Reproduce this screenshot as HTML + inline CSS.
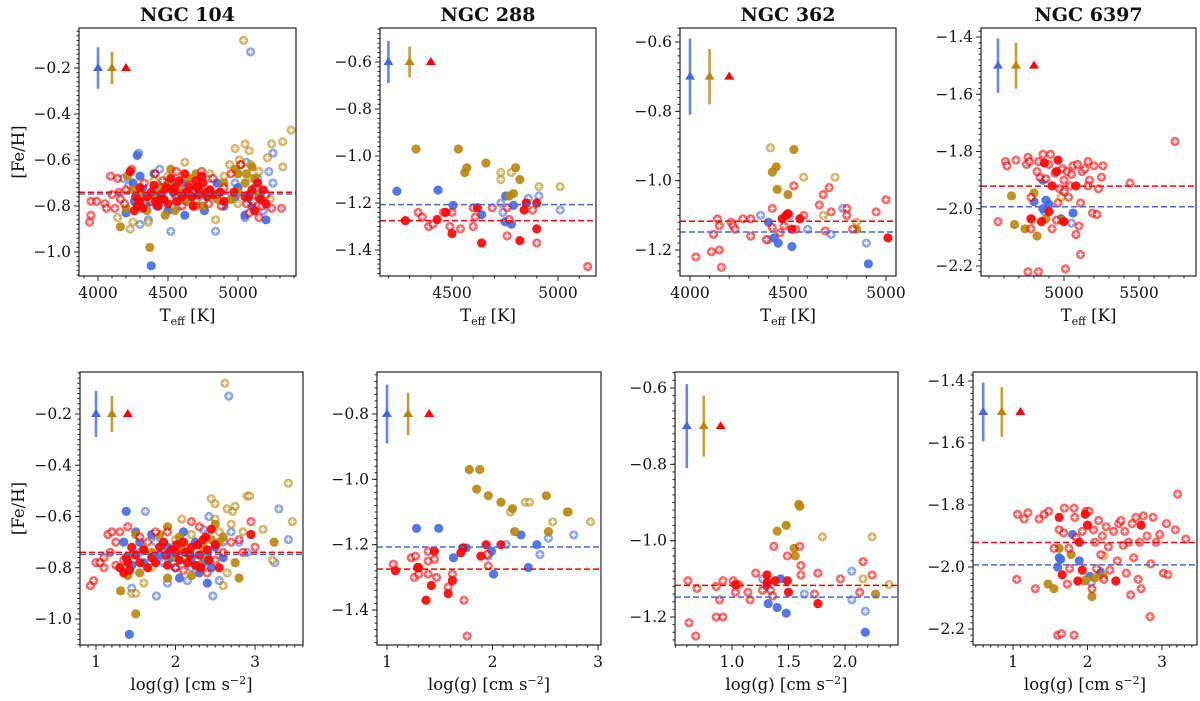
<!DOCTYPE html>
<html><head><meta charset="utf-8"><style>
html,body{margin:0;padding:0;background:#fff;}
svg{display:block;font-family:"DejaVu Serif","Liberation Serif",serif;}
</style></head><body>
<svg id="fig" width="1200" height="701" viewBox="0 0 1200 701" xmlns="http://www.w3.org/2000/svg"></svg>
<script>
// ---- data: each array is flat [x, y, x, y, ...] ----
const p1tBlueF=[4280,-0.58,4380,-1.06,4300,-0.67,4250,-0.70,4400,-0.66,4500,-0.82,4620,-0.84,4350,-0.79,5050,-0.84,5100,-0.80,5200,-0.86,4700,-0.72,4550,-0.75,4850,-0.70,5150,-0.76,4450,-0.77,4200,-0.83,4900,-0.80,4600,-0.70,5000,-0.72,4320,-0.72,4420,-0.80,4680,-0.76,4760,-0.82,4980,-0.76,5080,-0.78,4530,-0.70,4260,-0.78];
const p1tBlueO=[5090,-0.13,4290,-0.57,4440,-0.64,4520,-0.91,4840,-0.91,5060,-0.61,5220,-0.65,5250,-0.57,5250,-0.70,4180,-0.68,4300,-0.88,4750,-0.78,4950,-0.77,5180,-0.82,4650,-0.73,4400,-0.73,5050,-0.85,4800,-0.68,4580,-0.80,5120,-0.72,4360,-0.86,4980,-0.70,4220,-0.71,4470,-0.70,4700,-0.76,4880,-0.74,5140,-0.68,4620,-0.77];
const p1tGoldF=[4370,-0.98,4160,-0.89,4200,-0.81,4210,-0.67,4520,-0.64,4480,-0.84,4640,-0.78,4580,-0.70,4700,-0.66,4800,-0.73,4950,-0.77,5000,-0.66,5050,-0.70,5100,-0.63,4900,-0.70,4350,-0.82,4450,-0.72,4750,-0.80,5150,-0.75,4300,-0.75,4550,-0.82,4650,-0.68,5020,-0.62,4980,-0.64,5060,-0.66,5120,-0.68,4400,-0.76,4600,-0.74,4850,-0.77,4250,-0.73,4500,-0.70,4720,-0.72,5000,-0.74];
const p1tGoldO=[5040,-0.08,5380,-0.47,5320,-0.52,5050,-0.53,4980,-0.55,5240,-0.53,5210,-0.59,5320,-0.63,4620,-0.61,4840,-0.86,4140,-0.85,4230,-0.90,4360,-0.87,4900,-0.67,5080,-0.56,5150,-0.65,4700,-0.78,4500,-0.67,4250,-0.87,4800,-0.66,5000,-0.79,4400,-0.69,5100,-0.68,5230,-0.77,4940,-0.62,5010,-0.60,5090,-0.62,4560,-0.76,4330,-0.78];
const p1tRedF=[4280,-0.80,4260,-0.82,4300,-0.78,4230,-0.65,4500,-0.79,4550,-0.72,4600,-0.76,4650,-0.72,4700,-0.69,4720,-0.75,4750,-0.70,4800,-0.73,4450,-0.75,4400,-0.71,4350,-0.76,4520,-0.68,5100,-0.73,5140,-0.70,5120,-0.82,5050,-0.76,4970,-0.74,4900,-0.78,5200,-0.79,4620,-0.66,4680,-0.80,4560,-0.78,4780,-0.76,4430,-0.80,4300,-0.72,5160,-0.77,4270,-0.76,4320,-0.81,4380,-0.74,4470,-0.77,4540,-0.74,4580,-0.69,4630,-0.74,4670,-0.76,4710,-0.72,4740,-0.67,4770,-0.74,4820,-0.75,4870,-0.74,5080,-0.75,5180,-0.73,4490,-0.72,4410,-0.78];
const p1tRedO=[3940,-0.87,3950,-0.84,3950,-0.78,3990,-0.78,4050,-0.79,4060,-0.81,4090,-0.67,4140,-0.68,4150,-0.74,4120,-0.81,4200,-0.73,4240,-0.64,4330,-0.70,4410,-0.66,4460,-0.69,4560,-0.65,4650,-0.71,4740,-0.65,4820,-0.68,4850,-0.75,4900,-0.72,4950,-0.66,5020,-0.62,5060,-0.79,5150,-0.85,5200,-0.75,5240,-0.81,5310,-0.81,4700,-0.80,4600,-0.80,4790,-0.79,4380,-0.78,4480,-0.73,5080,-0.83,4880,-0.80,4160,-0.77,4100,-0.75,4190,-0.79,5110,-0.78,5170,-0.80];

const p1bBlueF=[1.42,-1.06,1.38,-0.58,1.35,-0.70,1.5,-0.66,1.7,-0.67,2.0,-0.80,2.05,-0.84,2.3,-0.82,2.4,-0.86,2.2,-0.76,1.9,-0.72,1.6,-0.78,2.5,-0.72,1.45,-0.79,2.1,-0.66,2.6,-0.76,1.8,-0.75,1.55,-0.70,2.25,-0.70,2.35,-0.78,1.95,-0.76,2.45,-0.80];
const p1bBlueO=[2.67,-0.13,1.62,-0.58,1.76,-0.91,2.47,-0.91,3.3,-0.57,3.42,-0.69,3.25,-0.78,1.45,-0.88,2.42,-0.60,2.8,-0.70,1.9,-0.86,2.15,-0.85,2.55,-0.85,2.9,-0.74,2.35,-0.65,1.55,-0.74,2.7,-0.66,2.0,-0.71,1.75,-0.70,2.2,-0.80,2.6,-0.70,1.85,-0.78];
const p1bGoldF=[1.50,-0.98,1.31,-0.89,1.4,-0.83,1.5,-0.67,1.8,-0.67,1.9,-0.64,2.0,-0.76,2.2,-0.83,2.35,-0.72,2.45,-0.69,2.6,-0.68,2.75,-0.78,2.8,-0.84,3.24,-0.70,1.9,-0.84,2.1,-0.73,2.3,-0.79,1.6,-0.73,1.55,-0.82,2.5,-0.63,1.7,-0.74,2.05,-0.68,2.4,-0.75,2.55,-0.70,1.45,-0.75];
const p1bGoldO=[2.62,-0.08,3.42,-0.47,3.47,-0.62,2.9,-0.52,2.93,-0.52,2.45,-0.53,2.5,-0.55,2.65,-0.57,2.72,-0.58,2.75,-0.56,2.6,-0.87,1.45,-0.90,1.5,-0.90,1.6,-0.86,2.08,-0.61,2.5,-0.61,3.1,-0.65,2.85,-0.66,3.22,-0.77,2.65,-0.82,2.2,-0.67,1.7,-0.80,2.0,-0.69,2.4,-0.76,2.55,-0.66,2.7,-0.63];
const p1bRedF=[1.3,-0.80,1.35,-0.82,1.4,-0.78,1.6,-0.73,1.7,-0.76,1.8,-0.72,1.9,-0.79,2.0,-0.74,2.1,-0.70,2.15,-0.78,2.2,-0.72,2.3,-0.75,2.35,-0.69,2.4,-0.73,2.45,-0.65,2.5,-0.71,2.55,-0.80,2.95,-0.67,1.5,-0.75,1.65,-0.80,2.05,-0.77,2.25,-0.79,1.85,-0.70,2.38,-0.68,1.45,-0.72,2.12,-0.74,1.95,-0.73,1.38,-0.76,1.55,-0.78,1.75,-0.78,1.88,-0.75,2.02,-0.71,2.18,-0.75,2.28,-0.71,2.42,-0.77,2.32,-0.80,1.42,-0.81];
const p1bRedO=[0.93,-0.87,0.97,-0.85,1.0,-0.78,1.05,-0.78,1.1,-0.80,1.15,-0.67,1.2,-0.66,1.18,-0.74,1.25,-0.79,1.3,-0.66,1.4,-0.64,1.55,-0.68,1.75,-0.66,2.2,-0.62,2.3,-0.64,2.4,-0.82,2.8,-0.69,2.95,-0.62,3.0,-0.72,2.85,-0.74,2.6,-0.74,1.1,-0.76,1.9,-0.66,2.7,-0.70,1.35,-0.77,2.0,-0.80,1.25,-0.70,1.65,-0.70,2.1,-0.81,2.5,-0.77];

const p2tBlueF=[4240,-1.15,4434,-1.145,4505,-1.21,4640,-1.25,4750,-1.28,4790,-1.21,4780,-1.29,4753,-1.17];
const p2tBlueO=[4860,-1.18,4910,-1.17,5010,-1.23,4740,-1.24,4730,-1.20,4850,-1.20];
const p2tGoldF=[4330,-0.97,4530,-0.97,4560,-1.07,4570,-1.05,4660,-1.03,4800,-1.05,4820,-1.10,4790,-1.16,4770,-1.17];
const p2tGoldO=[4730,-1.07,4730,-1.10,4780,-1.07,4910,-1.13,5010,-1.13];
const p2tRedF=[4280,-1.275,4430,-1.27,4500,-1.33,4620,-1.22,4640,-1.37,4840,-1.23,4900,-1.31,4820,-1.36,4850,-1.20,4900,-1.20,4470,-1.24];
const p2tRedO=[4340,-1.24,4360,-1.26,4390,-1.30,4410,-1.29,4460,-1.24,4490,-1.30,4500,-1.24,4540,-1.31,4600,-1.22,4610,-1.26,4600,-1.30,4690,-1.22,4760,-1.22,4760,-1.34,4770,-1.27,4880,-1.23,4900,-1.37,5140,-1.47];

const p2bBlueF=[1.28,-1.15,1.49,-1.15,1.63,-1.24,1.72,-1.21,1.75,-1.21,2.01,-1.29,2.27,-1.17,2.34,-1.27,2.42,-1.20,1.99,-1.22];
const p2bBlueO=[2.13,-1.20,1.96,-1.235,2.45,-1.23,2.53,-1.18,2.77,-1.17];
const p2bGoldF=[1.78,-0.97,1.88,-0.97,1.85,-1.03,1.96,-1.05,2.08,-1.07,2.19,-1.09,2.21,-1.16,2.51,-1.05,2.53,-1.16,2.71,-1.10];
const p2bGoldO=[2.17,-1.10,2.31,-1.07,2.35,-1.07,2.57,-1.13,2.72,-1.10,2.93,-1.13];
const p2bRedF=[1.08,-1.28,1.29,-1.27,1.30,-1.27,1.37,-1.37,1.42,-1.325,1.45,-1.22,1.58,-1.35,1.62,-1.31,1.70,-1.225,1.72,-1.21,1.89,-1.235,1.94,-1.20,2.08,-1.20];
const p2bRedO=[1.06,-1.26,1.23,-1.24,1.27,-1.235,1.26,-1.30,1.30,-1.29,1.39,-1.22,1.39,-1.25,1.39,-1.29,1.45,-1.245,1.47,-1.30,1.58,-1.33,1.62,-1.29,1.73,-1.37,1.76,-1.48,1.96,-1.265,1.95,-1.23];

const p3tBlueF=[4400,-1.12,4430,-1.165,4450,-1.18,4520,-1.19,4910,-1.24];
const p3tBlueO=[4360,-1.10,4400,-1.17,4600,-1.14,4720,-1.155,4780,-1.08,4900,-1.18,4510,-1.10];
const p3tGoldF=[4530,-0.91,4420,-0.975,4440,-0.96,4445,-1.025,4500,-1.04,4850,-1.14];
const p3tGoldO=[4410,-0.905,4580,-0.99,4740,-0.99,4680,-1.10,4850,-1.12];
const p3tRedF=[4470,-1.11,4490,-1.10,4500,-1.095,4520,-1.14,4560,-1.11,5010,-1.165];
const p3tRedO=[4030,-1.22,4110,-1.205,4120,-1.155,4140,-1.11,4150,-1.13,4150,-1.20,4160,-1.25,4210,-1.12,4220,-1.13,4230,-1.14,4270,-1.11,4310,-1.11,4310,-1.16,4390,-1.17,4420,-1.08,4420,-1.135,4460,-1.15,4480,-1.13,4530,-1.015,4580,-1.10,4660,-1.07,4680,-1.04,4690,-1.145,4710,-1.02,4720,-1.09,4800,-1.08,4800,-1.10,4830,-1.14,4950,-1.09,5000,-1.055,4540,-1.14];

const p3bBlueF=[1.31,-1.12,1.32,-1.165,1.40,-1.175,1.43,-1.10,1.48,-1.19,2.18,-1.24];
const p3bBlueO=[1.27,-1.10,1.64,-1.14,2.06,-1.155,2.06,-1.08,2.18,-1.185];
const p3bGoldF=[1.40,-0.975,1.48,-0.96,1.55,-1.02,1.56,-1.04,1.59,-0.905,1.60,-0.91,2.27,-1.14];
const p3bGoldO=[1.80,-0.99,2.24,-0.99,2.16,-1.10,2.39,-1.115];
const p3bRedF=[1.31,-1.09,1.31,-1.11,1.38,-1.105,1.49,-1.105,1.50,-1.135,1.76,-1.165,1.03,-1.115];
const p3bRedO=[0.61,-1.105,0.62,-1.215,0.68,-1.25,0.69,-1.125,0.86,-1.12,0.86,-1.20,0.89,-1.155,0.92,-1.105,0.92,-1.20,1.01,-1.105,1.03,-1.135,1.06,-1.115,1.14,-1.135,1.16,-1.155,1.21,-1.085,1.27,-1.13,1.34,-1.13,1.36,-1.145,1.37,-1.015,1.49,-1.04,1.60,-1.015,1.61,-1.065,1.61,-1.09,1.73,-1.14,1.76,-1.085,1.96,-1.10,2.13,-1.135,2.16,-1.055,2.24,-1.09];

const p4tBlueF=[4860,-1.90,4800,-1.975,4860,-2.00,4880,-1.97,4900,-1.985,4980,-2.035,5060,-2.015];
const p4tBlueO=[5050,-2.05,4870,-2.01];
const p4tGoldF=[4650,-1.955,4670,-2.055,4740,-2.07,4800,-1.945,4820,-2.095,4880,-2.035,4980,-2.04];
const p4tGoldO=[4980,-1.96,4790,-2.04];
const p4tRedF=[4780,-2.035,4850,-2.045,4900,-2.01,4920,-1.92,4950,-1.87,4960,-1.83,5000,-2.045,5080,-1.92,4870,-1.84];
const p4tRedO=[4560,-2.045,4610,-1.835,4620,-1.85,4680,-1.83,4750,-1.845,4760,-1.82,4770,-1.835,4780,-1.96,4780,-2.07,4820,-1.87,4830,-1.835,4840,-1.89,4860,-1.81,4880,-1.895,4900,-1.845,4910,-1.81,4920,-2.07,4940,-1.875,4950,-2.04,4960,-1.98,4970,-1.93,4990,-1.86,5000,-1.90,5010,-2.21,5020,-1.87,5030,-1.96,5040,-1.92,5050,-1.88,5060,-1.85,5080,-2.09,5090,-1.845,5100,-2.06,5110,-2.16,5120,-1.87,5140,-1.86,5160,-1.835,5170,-1.90,5190,-2.015,5200,-1.85,5220,-2.02,5230,-1.93,5250,-1.89,5260,-1.85,5440,-1.91,5740,-1.765,4760,-2.22,4830,-2.22,5110,-1.98,5160,-1.92,5000,-1.94];

const p4bBlueF=[1.60,-2.00,1.62,-1.97,1.64,-1.975,1.80,-1.895,1.89,-1.98,2.03,-2.03,2.17,-2.015];
const p4bBlueO=[2.05,-2.05];
const p4bGoldF=[1.47,-2.055,1.55,-2.07,1.62,-1.94,1.78,-1.96,1.96,-2.045,2.06,-2.095,2.10,-2.035,2.21,-2.03];
const p4bGoldO=[2.22,-1.965,1.99,-2.04];
const p4bRedF=[1.62,-1.84,1.66,-2.025,1.89,-1.92,1.93,-2.01,1.97,-1.83,2.00,-1.865,1.87,-2.045,2.38,-2.045,2.72,-1.865];
const p4bRedO=[1.05,-2.04,1.06,-1.83,1.15,-1.845,1.20,-1.825,1.30,-2.07,1.35,-1.845,1.42,-1.83,1.48,-1.82,1.55,-1.94,1.62,-1.88,1.68,-1.89,1.69,-1.81,1.73,-2.055,1.75,-1.94,1.76,-2.005,1.82,-1.81,1.83,-1.84,1.85,-1.905,1.93,-1.885,1.98,-1.82,2.02,-1.82,2.06,-2.07,2.08,-1.88,2.10,-1.92,2.12,-2.005,2.15,-1.85,2.18,-1.96,2.20,-1.90,2.22,-2.04,2.25,-1.87,2.28,-1.935,2.30,-2.01,2.35,-1.885,2.40,-1.98,2.42,-1.86,2.45,-1.85,2.50,-1.885,2.52,-2.02,2.55,-1.92,2.58,-2.09,2.60,-1.86,2.65,-1.84,2.68,-2.04,2.70,-1.92,2.75,-1.835,2.80,-1.90,2.84,-2.16,2.85,-1.99,2.88,-1.84,2.92,-1.92,2.97,-1.895,3.02,-2.02,3.06,-1.86,3.08,-2.025,3.18,-1.88,3.21,-1.765,3.32,-1.91,1.60,-2.22,1.65,-2.215,1.82,-2.22,2.72,-2.07,2.62,-1.97,2.48,-1.93];

// mean lines [red, blue]
const meanP1=[-0.740,-0.748];
const meanP2=[-1.275,-1.207];
const meanP3=[-1.117,-1.148];
const meanP4=[-1.921,-1.993];
const errXT1=[4000,4100,4200], errXB1=[1.0,1.2,1.4];
const errXT2=[4200,4300,4400], errXB2=[1.0,1.2,1.4];
const errXT3=[4000,4100,4200], errXB3=[0.6,0.75,0.9];
const errXT4=[4560,4680,4800], errXB4=[0.6,0.85,1.1];
const errC=[-0.2,-0.6,-0.7,-1.5], errCb=[-0.2,-0.8,-0.7,-1.5];
const errH1=[0.09,0.07], errH2=[0.09,0.065], errH3=[0.11,0.08], errH4=[0.095,0.08];
const titles=["NGC 104","NGC 288","NGC 362","NGC 6397"];

const BLUE="#4169E1", GOLD="#B8860B", RED="#FF0000";
const NS="http://www.w3.org/2000/svg";
const svg=document.getElementById('fig');
function mk(tag,at,parent){const e=document.createElementNS(NS,tag);for(const k in at)e.setAttribute(k,at[k]);(parent||svg).appendChild(e);return e;}
function fmt(v,d){const s=Math.abs(v).toFixed(d);return (v<0?"\u2212":"")+s;}

const panels=[
 {id:"p1t",box:[79,28,296,276],xa:[4000,98,5000,238],ya:[-0.2,68,-1.0,252],xt:[4000,4500,5000],xm:100,xd:0,yt:[-1.0,-0.8,-0.6,-0.4,-0.2],ym:0.02,yd:1,s:[p1tBlueO,p1tBlueF,p1tGoldO,p1tGoldF,p1tRedO,p1tRedF],mean:meanP1,ex:errXT1,ec:errC[0],eh:errH1,title:titles[0],ylab:true,xl:"teff"},
 {id:"p2t",box:[380,28,596,276],xa:[4500,452,5000,558],ya:[-0.6,62,-1.4,250],xt:[4500,5000],xm:100,xd:0,yt:[-1.4,-1.2,-1.0,-0.8,-0.6],ym:0.02,yd:1,s:[p2tBlueO,p2tBlueF,p2tGoldO,p2tGoldF,p2tRedO,p2tRedF],mean:meanP2,ex:errXT2,ec:errC[1],eh:errH2,title:titles[1],xl:"teff"},
 {id:"p3t",box:[680,28,896,276],xa:[4000,690,5000,886],ya:[-0.6,42,-1.2,250],xt:[4000,4500,5000],xm:100,xd:0,yt:[-1.2,-1.0,-0.8,-0.6],ym:0.02,yd:1,s:[p3tBlueO,p3tBlueF,p3tGoldO,p3tGoldF,p3tRedO,p3tRedF],mean:meanP3,ex:errXT3,ec:errC[2],eh:errH3,title:titles[2],xl:"teff"},
 {id:"p4t",box:[981,28,1196,276],xa:[5000,1064,5500,1139],ya:[-1.4,37,-2.2,266],xt:[5000,5500],xm:100,xd:0,yt:[-2.2,-2.0,-1.8,-1.6,-1.4],ym:0.02,yd:1,s:[p4tBlueO,p4tBlueF,p4tGoldO,p4tGoldF,p4tRedO,p4tRedF],mean:meanP4,ex:errXT4,ec:errC[3],eh:errH4,title:titles[3],xl:"teff"},
 {id:"p1b",box:[80,372,303,645],xa:[1,96,3,255],ya:[-0.2,414,-1.0,619],xt:[1,2,3],xm:0.1,xd:0,yt:[-1.0,-0.8,-0.6,-0.4,-0.2],ym:0.02,yd:1,s:[p1bBlueO,p1bBlueF,p1bGoldO,p1bGoldF,p1bRedO,p1bRedF],mean:meanP1,ex:errXB1,ec:errCb[0],eh:errH1,ylab:true,xl:"logg"},
 {id:"p2b",box:[377,372,601,645],xa:[1,387,3,598],ya:[-0.8,414,-1.4,610],xt:[1,2,3],xm:0.1,xd:0,yt:[-1.4,-1.2,-1.0,-0.8],ym:0.02,yd:1,s:[p2bBlueO,p2bBlueF,p2bGoldO,p2bGoldF,p2bRedO,p2bRedF],mean:meanP2,ex:errXB2,ec:errCb[1],eh:errH2,xl:"logg"},
 {id:"p3b",box:[675,372,898,645],xa:[1.0,732,2.0,845],ya:[-0.6,388,-1.2,617],xt:[1.0,1.5,2.0],xm:0.1,xd:1,yt:[-1.2,-1.0,-0.8,-0.6],ym:0.02,yd:1,s:[p3bBlueO,p3bBlueF,p3bGoldO,p3bGoldF,p3bRedO,p3bRedF],mean:meanP3,ex:errXB3,ec:errCb[2],eh:errH3,xl:"logg"},
 {id:"p4b",box:[973,372,1197,645],xa:[1,1013,3,1162],ya:[-1.4,381,-2.2,629],xt:[1,2,3],xm:0.1,xd:0,yt:[-2.2,-2.0,-1.8,-1.6,-1.4],ym:0.02,yd:1,s:[p4bBlueO,p4bBlueF,p4bGoldO,p4bGoldF,p4bRedO,p4bRedF],mean:meanP4,ex:errXB4,ec:errCb[3],eh:errH4,xl:"logg"}
];
const sColors=[BLUE,BLUE,GOLD,GOLD,RED,RED];
const sNames=["blue-open","blue-filled","gold-open","gold-filled","red-open","red-filled"];

panels.forEach((P,pi)=>{
 const [L,T,R,B]=P.box;
 const X=v=>P.xa[1]+(v-P.xa[0])*(P.xa[3]-P.xa[1])/(P.xa[2]-P.xa[0]);
 const Y=v=>P.ya[1]+(v-P.ya[0])*(P.ya[3]-P.ya[1])/(P.ya[2]-P.ya[0]);
 const Xi=p=>P.xa[0]+(p-P.xa[1])*(P.xa[2]-P.xa[0])/(P.xa[3]-P.xa[1]);
 const Yi=p=>P.ya[0]+(p-P.ya[1])*(P.ya[2]-P.ya[0])/(P.ya[3]-P.ya[1]);
 const g=mk('g',{});
 
 
 const defs=mk('defs',{},g);
 const cp=mk('clipPath',{id:'clip'+pi},defs);
 mk('rect',{x:L,y:T,width:R-L,height:B-T},cp);
 const plot=mk('g',{'clip-path':'url(#clip'+pi+')'},g);
 P.s.forEach((arr,si)=>{
  const sg=mk('g',{},plot);
  
  
  const open=si%2===0;
  for(let i=0;i<arr.length;i+=2){
   const cx=X(arr[i]),cy=Y(arr[i+1]);
   const c=mk('circle',{cx:cx,cy:cy,r:4.6,fill:sColors[si],'fill-opacity':open?0.6:0.9},sg);
   
   
   if(open){
    mk('path',{d:`M${cx-2.4},${cy}H${cx+2.4}M${cx},${cy-2.4}V${cy+2.4}`,stroke:'#fff','stroke-width':1.4},sg);
   }
  }
 });
 [[P.mean[1],BLUE],[P.mean[0],RED]].forEach(([v,c],k)=>{
  const ln=mk('line',{x1:L,x2:R,y1:Y(v),y2:Y(v),stroke:c,'stroke-width':1.5,'stroke-dasharray':'6,3'},plot);
  
  
 });
 const ecs=[BLUE,GOLD,RED];
 P.ex.forEach((xv,k)=>{
  const cx=X(xv),cy=Y(P.ec);
  if(k<2){
   const h=P.eh[k];
   const eb=mk('line',{x1:cx,x2:cx,y1:Y(P.ec+h),y2:Y(P.ec-h),stroke:ecs[k],'stroke-width':2.6,'stroke-opacity':0.8},plot);
   
   
  }
  const tri=mk('path',{d:`M${cx},${cy-5}L${cx+5},${cy+3}L${cx-5},${cy+3}Z`,fill:ecs[k]},plot);
  
  
 });
 mk('rect',{x:L,y:T,width:R-L,height:B-T,fill:'none',stroke:'#222','stroke-width':1.2},g);
 const ax=mk('g',{stroke:'#222','stroke-width':1},g);
 
 
 const x0=Xi(L),x1=Xi(R);
 for(let v=Math.ceil(x0/P.xm)*P.xm;v<=x1;v+=P.xm){
  const px=X(v);mk('line',{x1:px,x2:px,y1:B,y2:B+2.5},ax);
 }
 const y0=Yi(B),y1=Yi(T);
 for(let v=Math.ceil(y0/P.ym)*P.ym;v<=y1;v+=P.ym){
  const py=Y(v);mk('line',{x1:L,x2:L-2.5,y1:py,y2:py},ax);
 }
 P.xt.forEach(v=>{
  const px=X(v);mk('line',{x1:px,x2:px,y1:B,y2:B+5},ax);
  const t=mk('text',{x:px,y:B+22,'text-anchor':'middle','font-size':15.5,fill:'#111'},g);
  t.textContent=fmt(v,P.xd);
  
  
 });
 P.yt.forEach(v=>{
  const py=Y(v);mk('line',{x1:L,x2:L-5,y1:py,y2:py},ax);
  const t=mk('text',{x:L-8,y:py+5,'text-anchor':'end','font-size':15.5,fill:'#111'},g);
  t.textContent=fmt(v,P.yd);
  
  
 });
 const xl=mk('text',{x:(L+R)/2,y:B+45,'text-anchor':'middle','font-size':16.5,fill:'#111'},g);
 
 
 if(P.xl==="teff"){
  xl.innerHTML='T<tspan font-size="11" dy="4">eff</tspan><tspan dy="-4"> [K]</tspan>';
 }else{
  xl.innerHTML='log(g) [cm s<tspan font-size="11" dy="-6">\u22122</tspan><tspan dy="6">]</tspan>';
 }
 if(P.ylab){
  const yl=mk('text',{x:0,y:0,transform:`translate(24,${(T+B)/2}) rotate(-90)`,'text-anchor':'middle','font-size':16.5,fill:'#111'},g);
  yl.textContent='[Fe/H]';
  
  
 }
 if(P.title){
  const tt=mk('text',{x:(L+R)/2,y:21,'text-anchor':'middle','font-size':19,'font-weight':'bold',fill:'#111'},g);
  tt.textContent=P.title;
  
  
 }
});
</script>
</body></html>
